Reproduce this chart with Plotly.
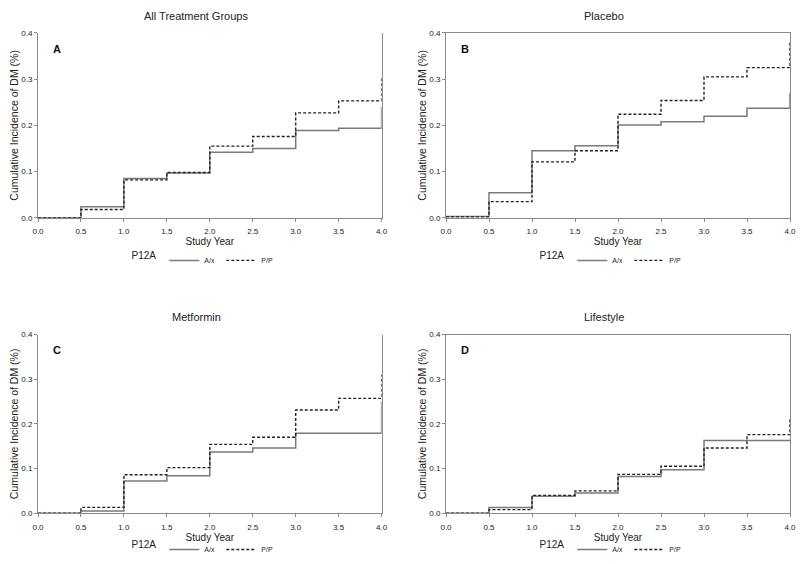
import plotly.graph_objects as go

years = [0.0, 0.5, 1.0, 1.5, 2.0, 2.5, 3.0, 3.5, 4.0, 4.0]

# cumulative incidence (last point = final jump at year 4)
all_ax = [0.0, 0.024, 0.085, 0.097, 0.142, 0.150, 0.189, 0.194, 0.194, 0.240]
all_pp = [0.0, 0.018, 0.082, 0.098, 0.155, 0.176, 0.227, 0.253, 0.253, 0.303]
plac_ax = [0.003, 0.054, 0.145, 0.156, 0.201, 0.208, 0.220, 0.237, 0.237, 0.270]
plac_pp = [0.002, 0.035, 0.121, 0.145, 0.224, 0.254, 0.305, 0.325, 0.325, 0.380]
met_ax = [0.0, 0.005, 0.072, 0.084, 0.137, 0.146, 0.179, 0.179, 0.179, 0.250]
met_pp = [0.0, 0.013, 0.086, 0.102, 0.154, 0.170, 0.231, 0.257, 0.257, 0.310]
life_ax = [0.0, 0.013, 0.038, 0.045, 0.082, 0.097, 0.163, 0.163, 0.163, 0.165]
life_pp = [0.0, 0.008, 0.040, 0.050, 0.087, 0.105, 0.146, 0.176, 0.176, 0.213]

panels = [
    ("All Treatment Groups", "A", all_ax, all_pp),
    ("Placebo", "B", plac_ax, plac_pp),
    ("Metformin", "C", met_ax, met_pp),
    ("Lifestyle", "D", life_ax, life_pp),
]

H = 564


def py(px):
    # pixel row (from top) -> paper y, with a small correction for how the page is captured
    return 1 - ((px - 0.5) / 0.985) / H


x_doms = [[0.0475, 0.477], [0.5575, 0.9875]]
y_doms = [[py(215), py(33)], [py(506), py(330)]]
title_x = [196 / 800, 604 / 800]
title_y = [py(16), py(313)]
legend_y = [py(257), 0.0]
legend_anchor = ["middle", "bottom"]
box = [False, True, False, True]

font = "Liberation Sans, Arial, sans-serif"
axis_grey = "#8a8a8a"

fig = go.Figure()

for i, (title, letter, ax_vals, pp_vals) in enumerate(panels):
    r, c = divmod(i, 2)
    n = "" if i == 0 else str(i + 1)
    xa, ya = "x" + n, "y" + n
    leg = "legend" + n

    fig.add_trace(go.Scatter(x=years, y=ax_vals, mode="lines", line_shape="hv",
                             name="A/x", legend=leg, xaxis=xa, yaxis=ya,
                             line=dict(color="#7a7a7a", width=1.5)))
    fig.add_trace(go.Scatter(x=years, y=pp_vals, mode="lines", line_shape="hv",
                             name="P/P", legend=leg, xaxis=xa, yaxis=ya,
                             line=dict(color="#222222", width=1.4, dash="3px,2px")))

    xd, yd = x_doms[c], y_doms[r]
    fig.layout["xaxis" + n] = dict(
        domain=xd, anchor=ya, range=[0, 4], tickvals=[0, 0.5, 1, 1.5, 2, 2.5, 3, 3.5, 4],
        ticktext=["0.0", "0.5", "1.0", "1.5", "2.0", "2.5", "3.0", "3.5", "4.0"],
        showgrid=False, zeroline=False, showline=True, linecolor=axis_grey, linewidth=1,
        mirror=box[i], ticks="outside", ticklen=3, tickcolor=axis_grey,
        ticklabelstandoff=3, tickfont=dict(size=8, color="#222"),
        title=dict(text="Study Year", font=dict(size=10, color="#222"), standoff=2),
        automargin=False)
    fig.layout["yaxis" + n] = dict(
        domain=yd, anchor=xa, range=[0, 0.4], tickvals=[0, 0.1, 0.2, 0.3, 0.4],
        ticktext=["0.0", "0.1", "0.2", "0.3", "0.4"],
        showgrid=False, zeroline=False, showline=True, linecolor=axis_grey, linewidth=1,
        mirror=True, ticks="outside", ticklen=3, tickcolor=axis_grey,
        tickfont=dict(size=8, color="#222"),
        title=dict(text="Cumulative Incidence of DM (%)", font=dict(size=10.5, color="#222"),
                   standoff=0),
        automargin=False)

    fig.layout[leg] = dict(
        orientation="h", x=title_x[c] + 0.01, xanchor="center",
        y=legend_y[r], yanchor=legend_anchor[r],
        title=dict(text="P12A", font=dict(size=10, color="#222")),
        font=dict(size=7, color="#222"), itemwidth=30, entrywidth=12,
        bgcolor="rgba(0,0,0,0)", tracegroupgap=0)

    fig.add_annotation(text=title, xref="paper", yref="paper",
                       x=title_x[c], y=title_y[r], xanchor="center", yanchor="middle",
                       showarrow=False, font=dict(size=11, color="#222"))
    fig.add_annotation(text="<b>%s</b>" % letter, xref=xa, yref=ya, x=0.22, y=0.366,
                       showarrow=False, font=dict(size=11, color="#111"))

fig.update_layout(width=800, height=H, autosize=False, margin=dict(l=0, r=0, t=0, b=0),
                  paper_bgcolor="white", plot_bgcolor="white",
                  font=dict(family=font, color="#222"), showlegend=True)

page_css = ("document.body.style.margin='0';"
            "document.body.style.overflow='hidden';"
            "document.documentElement.style.overflow='hidden';")
fig.write_html("out.html", config={"displayModeBar": False, "responsive": False},
               post_script=page_css)
